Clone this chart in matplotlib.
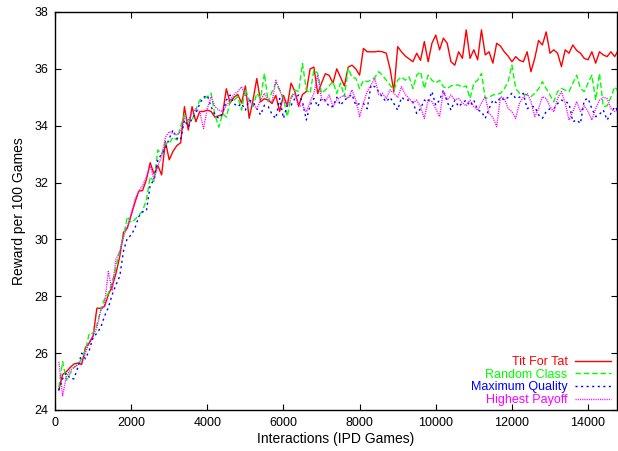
import numpy as np
import matplotlib
matplotlib.use("Agg")
import matplotlib.pyplot as plt

plt.rcParams['font.family'] = ['Liberation Sans', 'DejaVu Sans']

# interactions sampled every 100 games
interactions = np.arange(100, 14801, 100)

tit_for_tat = [
    24.7, 25.25, 25.35, 25.5, 25.62, 25.65, 25.6, 26.2, 26.35, 26.6,
    27.58, 27.58, 27.64, 28.05, 28.35, 28.8, 29.4, 30.25, 30.4, 30.85,
    31.3, 31.7, 31.72, 32.1, 32.7, 32.3, 32.6, 32.27, 33.44, 32.8,
    33.1, 33.3, 33.4, 34.67, 33.85, 34.67, 34.14, 34.5, 34.5, 34.55,
    34.5, 34.3, 34.35, 34.4, 35.3, 34.8, 35.0, 35.1, 34.8, 35.4,
    34.26, 34.9, 35.66, 34.84, 34.95, 34.9, 34.78, 35.07, 34.5, 35.07,
    34.7, 35.5, 35.2, 34.7, 35.1, 35.2, 36.0, 36.06, 35.13, 35.5,
    35.83, 35.77, 35.5, 36.0, 35.7, 35.4, 36.06, 36.13, 36.0, 35.78,
    36.72, 36.6, 36.6, 36.6, 36.62, 36.6, 36.55, 36.0, 35.2, 36.78,
    36.6, 36.45, 36.35, 36.25, 36.55, 36.3, 36.96, 36.25, 36.9, 37.19,
    36.67, 37.08, 36.9, 36.25, 36.13, 36.6, 36.37, 37.37, 36.37, 36.67,
    36.32, 37.37, 36.49, 36.6, 36.2, 36.9, 36.8, 36.6, 36.45, 36.25,
    36.43, 36.3, 36.25, 36.6, 35.9, 36.37, 37.0, 36.84, 37.3, 36.55,
    36.67, 36.55, 36.08, 36.67, 36.55, 36.84, 36.65, 36.55, 36.37, 36.32,
    36.6, 36.2, 36.6, 36.49, 36.43, 36.6, 36.43, 36.67,
]

random_class = [
    24.8, 25.7, 25.05, 25.3, 25.5, 25.6, 25.8, 26.1, 26.7, 26.7,
    27.0, 27.5, 27.9, 28.1, 28.5, 29.0, 29.6, 30.1, 30.8, 30.6,
    30.7, 30.85, 31.0, 31.4, 32.2, 32.04, 33.15, 33.0, 33.38, 33.38,
    33.6, 33.5, 33.97, 34.38, 34.14, 34.2, 34.55, 34.9, 34.95, 35.02,
    35.14, 34.38, 33.95, 34.43, 34.3, 34.85, 34.9, 35.02, 34.55, 35.3,
    34.9, 34.67, 35.14, 34.96, 35.84, 34.84, 35.2, 35.49, 35.26, 34.96,
    34.32, 35.0, 35.26, 35.2, 36.19, 35.26, 35.14, 35.96, 35.84, 35.14,
    35.26, 35.4, 35.55, 35.14, 35.5, 35.02, 36.02, 35.7, 35.67, 35.3,
    35.6, 35.55, 35.6, 35.7, 35.9, 35.78, 35.6, 35.43, 35.26, 35.6,
    35.72, 35.6, 35.72, 35.31, 35.78, 35.9, 35.31, 35.78, 35.6, 35.5,
    35.6, 35.37, 35.31, 35.4, 35.43, 35.43, 35.35, 35.4, 34.96, 35.5,
    35.6, 35.84, 34.96, 35.0, 35.08, 35.1, 35.14, 35.3, 35.55, 36.13,
    35.31, 35.14, 35.1, 35.08, 35.02, 35.14, 35.3, 35.55, 35.31, 35.08,
    34.84, 35.2, 35.31, 35.25, 35.2, 35.5, 35.78, 35.31, 35.2, 35.5,
    35.78, 34.9, 35.84, 34.67, 34.7, 35.0, 35.37, 35.2,
]

maximum_quality = [
    24.7, 25.1, 25.3, 25.1, 25.1, 25.5, 26.0, 25.8, 26.1, 26.55,
    26.7, 26.9, 27.3, 27.6, 28.05, 28.4, 28.7, 29.6, 30.05, 30.15,
    30.4, 30.8, 30.97, 31.0, 31.9, 32.1, 32.8, 33.0, 33.2, 33.55,
    33.85, 33.55, 33.5, 34.2, 33.96, 34.26, 34.43, 34.78, 35.0, 35.07,
    34.67, 34.38, 34.26, 34.4, 34.9, 35.08, 34.78, 34.67, 34.78, 34.55,
    34.9, 34.84, 34.6, 34.38, 34.72, 34.67, 34.4, 34.26, 34.96, 34.26,
    34.72, 34.72, 34.96, 35.08, 34.84, 34.2, 34.72, 34.96, 34.67, 34.96,
    34.9, 34.67, 34.67, 35.0, 34.72, 34.9, 35.0, 35.1, 34.72, 34.78,
    34.78, 34.6, 35.43, 35.37, 35.2, 35.0, 34.84, 35.0, 34.78, 34.55,
    35.0, 34.9, 34.9, 34.84, 34.43, 34.6, 34.9, 34.84, 35.2, 34.72,
    34.9, 35.26, 34.84, 34.55, 34.9, 34.67, 34.8, 34.9, 34.7, 34.9,
    34.55, 34.5, 34.26, 34.6, 34.9, 34.8, 35.0, 34.9, 35.0, 35.14,
    34.96, 35.0, 35.14, 34.6, 34.67, 34.67, 34.38, 34.26, 34.5, 34.6,
    34.6, 34.78, 34.9, 34.85, 34.78, 34.14, 34.2, 34.08, 34.9, 34.96,
    34.6, 34.32, 34.4, 34.55, 34.2, 34.43, 34.67, 34.5,
]

highest_payoff = [
    25.7, 24.5, 25.2, 25.4, 25.5, 25.6, 25.65, 26.0, 26.4, 26.6,
    26.9, 27.5, 27.7, 28.87, 28.2, 29.3, 29.57, 30.1, 30.45, 30.9,
    31.4, 31.7, 31.9, 32.2, 32.6, 32.1, 32.6, 32.9, 33.6, 33.79,
    33.73, 33.67, 33.8, 34.26, 34.2, 34.43, 34.6, 34.5, 33.9, 34.6,
    35.02, 34.67, 34.55, 34.5, 34.7, 34.9, 35.1, 35.2, 35.37, 35.08,
    34.84, 34.75, 34.6, 34.9, 35.14, 34.9, 34.84, 35.6, 35.26, 34.9,
    34.72, 34.96, 35.14, 34.67, 34.72, 34.49, 34.84, 35.14, 35.78, 34.96,
    34.84, 35.08, 34.67, 34.9, 35.0, 35.08, 34.96, 35.26, 34.9, 34.32,
    34.8, 35.2, 35.43, 35.66, 35.1, 35.14, 34.96, 35.26, 35.14, 35.0,
    35.37, 35.1, 34.96, 34.8, 34.9, 34.67, 34.26, 34.9, 34.85, 34.6,
    34.32, 35.2, 34.9, 35.08, 34.9, 34.96, 34.8, 34.7, 34.9, 34.67,
    34.55, 34.8, 35.02, 34.43, 34.3, 33.97, 35.02, 34.96, 34.6, 34.5,
    34.26, 34.8, 35.0, 35.14, 34.85, 34.32, 34.6, 35.02, 34.96, 34.67,
    34.49, 34.96, 35.2, 34.8, 34.2, 34.49, 34.85, 34.5, 34.7, 34.5,
    34.2, 34.6, 34.9, 35.0, 34.96, 34.6, 34.5, 34.55,
]

labels = ['Tit For Tat', 'Random Class', 'Maximum Quality', 'Highest Payoff']
x_ticks = [0, 2000, 4000, 6000, 8000, 10000, 12000, 14000]
y_ticks = [24, 26, 28, 30, 32, 34, 36, 38]

fig = plt.figure(figsize=(6.18, 4.51), dpi=100)
ax = fig.add_axes([55 / 618, 41 / 451, 562 / 618, 398 / 451])

ax.plot(interactions, tit_for_tat, color='#ff0000', lw=1.0, ls='-', label=labels[0])
ax.plot(interactions, random_class, color='#00ff00', lw=1.0, dashes=(4, 2), label=labels[1])
ax.plot(interactions, maximum_quality, color='#0000ff', lw=1.0, dashes=(1.5, 2.5), label=labels[2])
ax.plot(interactions, highest_payoff, color='#ff00ff', lw=1.0, dashes=(0.8, 0.8), label=labels[3])

ax.set_xlim(0, 14760)
ax.set_ylim(24, 38)
ax.set_xticks(x_ticks)
ax.set_yticks(y_ticks)
ax.tick_params(direction='in', top=True, right=True, length=4, width=0.8,
               labelsize=9, pad=5)
for s in ax.spines.values():
    s.set_linewidth(1.0)

ax.set_xlabel('Interactions (IPD Games)', fontsize=10, labelpad=2)
ax.set_ylabel('Reward per 100 Games', fontsize=10, labelpad=6)

ax.legend(loc='lower right', bbox_to_anchor=(1.0, -0.004), markerfirst=False,
          labelcolor='linecolor', frameon=False, handlelength=2.9,
          handletextpad=0.6, labelspacing=0.05, fontsize=9, borderaxespad=0.05)

fig.savefig('out.png', dpi=100)
